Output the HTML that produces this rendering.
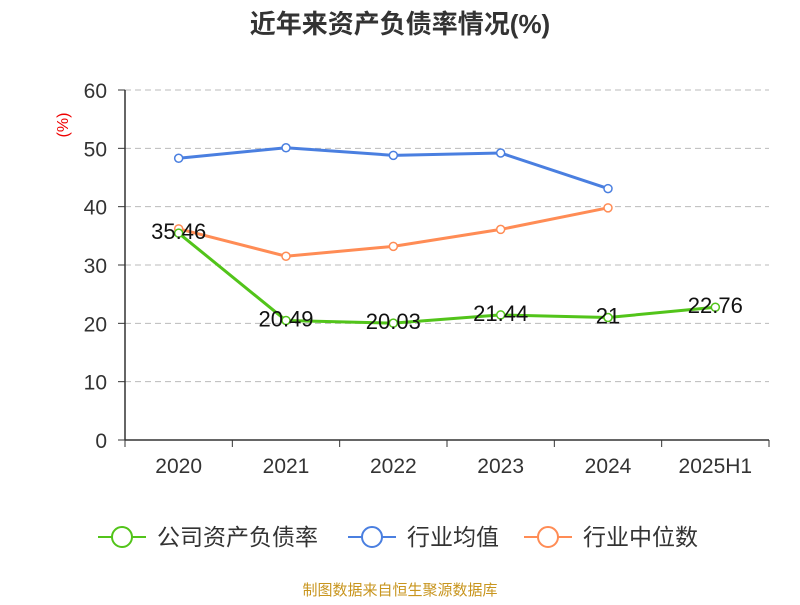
<!DOCTYPE html>
<html><head><meta charset="utf-8"><style>
body{margin:0;background:#fff;}
svg text{font-family:"Liberation Sans","Noto Sans CJK SC",sans-serif;}
</style></head><body>
<svg width="800" height="600" id="c">
<text x="400" y="33" text-anchor="middle" font-size="26" font-weight="bold" fill="#333">近年来资产负债率情况(%)</text>
<text transform="translate(68,125) rotate(-90)" text-anchor="middle" font-size="16" fill="#e00">(%)</text>
<g id="grid"></g><g id="axes"></g><g id="series"></g>
<g>
<g><line x1="98" y1="537" x2="146" y2="537" stroke="#52c41a" stroke-width="2"/><circle cx="122" cy="537" r="10" fill="#fff" stroke="#52c41a" stroke-width="2"/><text x="157" y="545" font-size="23" fill="#333">公司资产负债率</text></g>
<g><line x1="348" y1="537" x2="396" y2="537" stroke="#4a7fe0" stroke-width="2"/><circle cx="372" cy="537" r="10" fill="#fff" stroke="#4a7fe0" stroke-width="2"/><text x="407" y="545" font-size="23" fill="#333">行业均值</text></g>
<g><line x1="524" y1="537" x2="572" y2="537" stroke="#ff8c55" stroke-width="2"/><circle cx="548" cy="537" r="10" fill="#fff" stroke="#ff8c55" stroke-width="2"/><text x="583" y="545" font-size="23" fill="#333">行业中位数</text></g>
</g>
<text x="400" y="595" text-anchor="middle" font-size="15" fill="#c8951e">制图数据来自恒生聚源数据库</text>
</svg>
<script>
const categories=["2020","2021","2022","2023","2024","2025H1"];
const company=[35.46,20.49,20.03,21.44,21,22.76];
const industryAvg=[48.3,50.1,48.8,49.2,43.1];
const industryMedian=[36.2,31.5,33.2,36.1,39.8];
const yTicks=[0,10,20,30,40,50,60];
const NS="http://www.w3.org/2000/svg";
const x0=125,x1=769,y0=440,y1=90,band=(x1-x0)/categories.length;
const xs=i=>x0+band*(i+0.5);
const ys=v=>y0-(v/60)*(y0-y1);
function mk(t,a,p){const e=document.createElementNS(NS,t);for(const k in a)e.setAttribute(k,a[k]);p.appendChild(e);return e;}
const grid=document.getElementById('grid'),axes=document.getElementById('axes'),ser=document.getElementById('series');
yTicks.forEach(v=>{
 if(v>0){const g=mk('line',{x1:x0,x2:x1,y1:ys(v),y2:ys(v),stroke:'#bbb','stroke-dasharray':'6,4'},grid);
 
 }
 const t=mk('text',{x:107,y:ys(v)+8,'text-anchor':'end','font-size':21,fill:'#333'},axes);t.textContent=v;
 
 
 mk('line',{x1:x0-7,x2:x0,y1:ys(v),y2:ys(v),stroke:'#333'},axes);
});
mk('line',{x1:x0,x2:x0,y1:y1,y2:y0,stroke:'#333','stroke-width':1.5},axes);
mk('line',{x1:x0,x2:x1,y1:y0,y2:y0,stroke:'#333','stroke-width':1.5},axes);
for(let i=0;i<=categories.length;i++)mk('line',{x1:x0+band*i,x2:x0+band*i,y1:y0,y2:y0+7,stroke:'#333'},axes);
categories.forEach((c,i)=>{const t=mk('text',{x:xs(i),y:473,'text-anchor':'middle','font-size':21,fill:'#333'},axes);t.textContent=c;
 
 });
function line(data,color,name,labels){
 const pl=mk('polyline',{points:data.map((v,i)=>xs(i)+','+ys(v)).join(' '),fill:'none',stroke:color,'stroke-width':3},ser);
 
 
 data.forEach((v,i)=>{const c=mk('circle',{cx:xs(i),cy:ys(v),r:4,fill:'#fff',stroke:color,'stroke-width':1.5},ser);
  
  
  if(labels){const t=mk('text',{x:xs(i),y:ys(v)+6,'text-anchor':'middle','font-size':22,fill:'#111'},ser);t.textContent=v;
   
   }
 });
}
line(industryAvg,'#4a7fe0','industry-avg',false);
line(industryMedian,'#ff8c55','industry-median',false);
line(company,'#52c41a','company',true);
</script>
</body></html>
